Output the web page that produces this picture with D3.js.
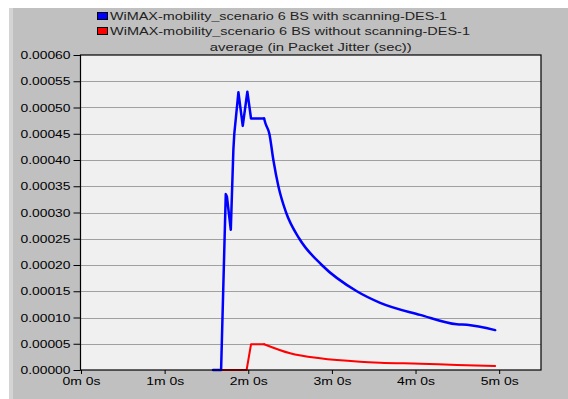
<!DOCTYPE html>
<html><head><meta charset="utf-8">
<script src="https://cdn.jsdelivr.net/npm/d3@7"></script>
<style>body{margin:0;background:#fff}svg{display:block}text{font-family:"Liberation Sans",Arial,sans-serif;fill:#000}</style>
</head><body><svg id="c" width="568" height="399"></svg>
<script>
// ---- data (time in minutes, jitter in seconds) ----
const seriesNames = ["WiMAX-mobility_scenario 6 BS with scanning-DES-1","WiMAX-mobility_scenario 6 BS without scanning-DES-1"];
const blueT = [1.579,1.675,1.731,1.745,1.791,1.822,1.833,1.882,1.934,1.989,2.033,2.189,2.205,2.252,2.300,2.360,2.452,2.611,2.879,3.298,3.577,4.055,4.494,4.614,4.952];
const blueV = [0,0,0.000335,0.000330,0.000267,0.000420,0.000450,0.000529,0.000465,0.000530,0.000479,0.000479,0.000470,0.000450,0.000400,0.000350,0.000300,0.000250,0.000200,0.000150,0.000128,0.000105,0.000087,0.000086,0.000076];
const redT = [1.579,1.980,2.033,2.189,2.500,2.859,3.337,3.577,4.055,4.494,4.952];
const redV = [0,0,0.000049,0.000049,0.0000318,0.0000222,0.0000158,0.0000140,0.0000120,0.0000095,0.0000076];
const blueDecayStart = 11, redDecayStart = 3;
const xTicks = [0,1,2,3,4,5];
const xTickLabels = ["0m 0s","1m 0s","2m 0s","3m 0s","4m 0s","5m 0s"];
const yTicks = [0,0.00005,0.0001,0.00015,0.0002,0.00025,0.0003,0.00035,0.0004,0.00045,0.0005,0.00055,0.0006];
const yTickLabels = ["0.00000","0.00005","0.00010","0.00015","0.00020","0.00025","0.00030","0.00035","0.00040","0.00045","0.00050","0.00055","0.00060"];
const title = "average (in Packet Jitter (sec))";

const svg = d3.select("#c");
const L=80.5, R=541, T=55, B=370;
const x = d3.scaleLinear().domain([0,5.5]).range([L+0.5,R]);
const y = d3.scaleLinear().domain([0,0.0006]).range([B,T]);

// background frame
svg.append("rect").attr("x",9).attr("y",8).attr("width",559).attr("height",391).attr("fill","#c0c0c0");
svg.append("rect").attr("x",9).attr("y",8).attr("width",4).attr("height",391).attr("fill","#d4d4d4");

// plot area
svg.append("rect").attr("x",L).attr("y",T).attr("width",R-L).attr("height",B-T).attr("fill","#f0f0f0");

// grid
svg.append("g").selectAll("line").data(yTicks.slice(1,-1)).join("line")
  .attr("x1",L).attr("x2",R).attr("y1",d=>Math.round(y(d))+0.5).attr("y2",d=>Math.round(y(d))+0.5)
  .attr("stroke","#a0a0a0").attr("stroke-width",1);

// lines: linear for the ramp, smooth for the decay
function pts(T_,V_,a,b){return T_.slice(a,b).map((t,i)=>[x(t),y(V_[a+i])]);}
const lin = d3.line().curve(d3.curveLinear);
const smooth = d3.line().curve(d3.curveMonotoneX);
function drawSeries(T_,V_,split,color,w){
  const g = svg.append("g").attr("fill","none").attr("stroke",color).attr("stroke-width",w).attr("stroke-linejoin","round").attr("stroke-linecap","round");
  g.append("path").attr("d",lin(pts(T_,V_,0,split+1)));
  g.append("path").attr("d",smooth(pts(T_,V_,split,T_.length)));
}
drawSeries(redT,redV,redDecayStart,"#ff0000",2);
drawSeries(blueT,blueV,blueDecayStart,"#0000ff",2.5);

// border
svg.append("rect").attr("x",L).attr("y",T).attr("width",R-L).attr("height",B-T).attr("fill","none").attr("stroke","#000").attr("stroke-width",1.2);

// y axis
const ya = d3.axisLeft(y).tickValues(yTicks).tickFormat((d,i)=>yTickLabels[i]).tickSize(7).tickPadding(3);
const gy = svg.append("g").attr("transform",`translate(${L},0)`).call(ya);
gy.select(".domain").remove();
gy.selectAll("line").attr("stroke","#000");
gy.selectAll("text").style("font-size","11px").attr("textLength",50).attr("lengthAdjust","spacingAndGlyphs").attr("fill","#222");

// x axis
const xa = d3.axisBottom(x).tickValues(xTicks).tickFormat((d,i)=>xTickLabels[i]).tickSize(4).tickPadding(3);
const gx = svg.append("g").attr("transform",`translate(0,${B})`).call(xa);
gx.select(".domain").remove();
gx.selectAll("line").attr("stroke","#000");
gx.selectAll("text").style("font-size","11px").attr("textLength",38).attr("lengthAdjust","spacingAndGlyphs").attr("fill","#222");

// title
svg.append("text").attr("x",(L+R)/2).attr("y",51).attr("text-anchor","middle").style("font-size","11px").style("fill","#222")
  .attr("textLength",202).attr("lengthAdjust","spacingAndGlyphs").text(title);

// legend
const colors = ["#0000ff","#ff0000"];
const lens = [337,360];
seriesNames.forEach((n,i)=>{
  svg.append("rect").attr("x",97.5).attr("y",12.5+i*15).attr("width",10).attr("height",7).attr("fill",colors[i]).attr("stroke","#000").attr("stroke-width",1);
  svg.append("text").attr("x",110).attr("y",20+i*15).style("font-size","11px").style("fill","#222").attr("textLength",lens[i]).attr("lengthAdjust","spacingAndGlyphs").text(n);
});
</script></body></html>
